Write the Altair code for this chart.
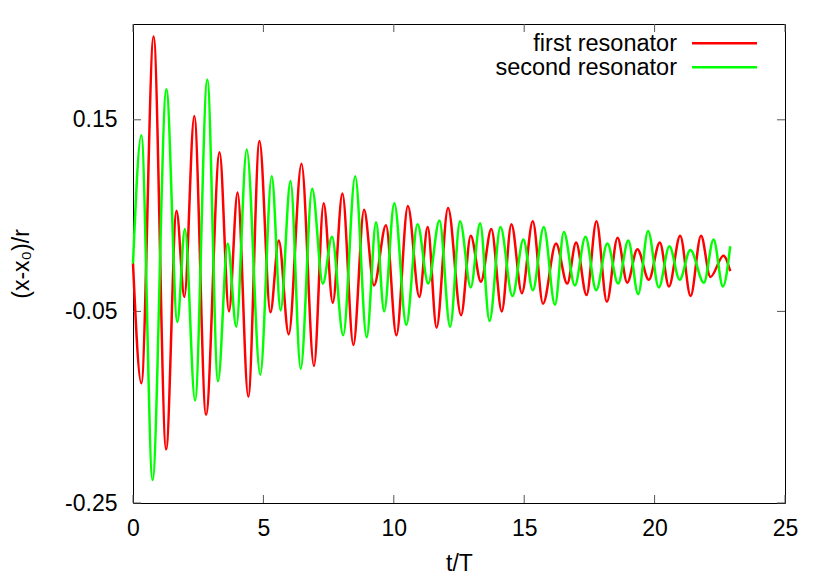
import altair as alt
import pandas as pd

# ---- data (extrema of each oscillation) ----
t_first = [0.0, 0.32, 0.79, 1.27, 1.67, 1.97, 2.35, 2.80, 3.32, 3.68, 4.01, 4.42, 4.85, 5.27,
           5.59, 5.97, 6.46, 6.94, 7.31, 7.66, 8.03, 8.45, 8.86, 9.24, 9.70, 10.10, 10.54,
           10.98, 11.30, 11.64, 12.08, 12.58, 12.95, 13.34, 13.74, 14.14, 14.51, 14.91, 15.33,
           15.72, 16.22, 16.65, 16.99, 17.39, 17.77, 18.17, 18.58, 18.95, 19.34, 19.78, 20.20,
           20.55, 20.98, 21.38, 21.78, 22.14, 22.64, 22.90]
v_first = [0.0, -0.125, 0.237, -0.194, 0.055, -0.035, 0.154, -0.158, 0.116, -0.050, 0.074,
           -0.139, 0.128, -0.051, 0.024, -0.074, 0.104, -0.107, 0.063, -0.041, 0.073, -0.085,
           0.056, -0.023, 0.040, -0.075, 0.060, -0.035, 0.038, -0.067, 0.058, -0.054, 0.029,
           -0.019, 0.036, -0.050, 0.041, -0.031, 0.044, -0.042, 0.021, -0.021, 0.022, -0.033,
           0.044, -0.040, 0.027, -0.020, 0.015, -0.017, 0.022, -0.024, 0.029, -0.034, 0.029,
           -0.014, 0.008, -0.008]

t_second = [0.0, 0.32, 0.75, 1.28, 1.70, 1.99, 2.38, 2.85, 3.26, 3.63, 3.96, 4.36, 4.88, 5.32,
            5.66, 6.04, 6.43, 6.87, 7.28, 7.63, 8.06, 8.52, 8.96, 9.32, 9.63, 10.02, 10.48,
            10.91, 11.32, 11.75, 12.16, 12.54, 12.95, 13.31, 13.67, 14.09, 14.55, 14.97, 15.33,
            15.75, 16.18, 16.52, 16.94, 17.35, 17.76, 18.19, 18.60, 18.99, 19.37, 19.75, 20.16,
            20.57, 20.96, 21.37, 21.89, 22.26, 22.62, 22.90]
v_second = [0.0, 0.134, -0.226, 0.182, -0.061, 0.036, -0.143, 0.192, -0.123, 0.021, -0.066,
            0.119, -0.116, 0.091, -0.049, 0.086, -0.110, 0.078, -0.021, 0.028, -0.075, 0.091,
            -0.077, 0.043, -0.050, 0.063, -0.064, 0.041, -0.021, 0.045, -0.066, 0.044, -0.025,
            0.042, -0.060, 0.038, -0.034, 0.025, -0.028, 0.038, -0.043, 0.033, -0.023, 0.028,
            -0.028, 0.021, -0.021, 0.024, -0.032, 0.034, -0.025, 0.018, -0.017, 0.014, -0.020,
            0.025, -0.024, 0.018]

series_names = ["first resonator", "second resonator"]
series_colors = ["#ff0000", "#00ff00"]
x_ticks = [0, 5, 10, 15, 20, 25]
y_ticks = [-0.25, -0.05, 0.15]

# ---- layout ----
W, H = 652, 479
FONT = "Liberation Sans"
FS = 23
TICK = 8
LW = 2.5

xs = alt.Scale(domain=[0, 25], nice=False, zero=False)
ys = alt.Scale(domain=[-0.25, 0.25], nice=False, zero=False)

x_axis = alt.Axis(values=x_ticks, ticks=False, domain=False, grid=False,
                  labelFontSize=FS, labelPadding=14, labelColor="black", labelFlush=False,
                  labelOverlap=False, format="d",
                  title="t/T", titleFontSize=FS, titleFontWeight="normal", titleColor="black",
                  titleX=W / 2, titleY=60, titleBaseline="middle")
y_axis = alt.Axis(values=y_ticks, ticks=False, domain=False, grid=False,
                  labelFontSize=FS, labelPadding=16, labelColor="black", labelOverlap=False,
                  labelExpr="replace(format(datum.value, '.2f'), '\u2212', '-')",
                  title="(x-x\u2080)/r", titleFontSize=FS, titleFontWeight="normal",
                  titleColor="black", titleAngle=-90, titleX=-112, titleY=H / 2,
                  titleBaseline="middle")

X = alt.X("t:Q", scale=xs, axis=x_axis)
Y = alt.Y("v:Q", scale=ys, axis=y_axis)

df1 = pd.DataFrame({"t": t_first, "v": v_first})
df2 = pd.DataFrame({"t": t_second, "v": v_second})

line1 = alt.Chart(df1).mark_line(color=series_colors[0], strokeWidth=LW,
                                 interpolate="monotone").encode(x=X, y=Y)
line2 = alt.Chart(df2).mark_line(color=series_colors[1], strokeWidth=LW,
                                 interpolate="monotone").encode(x=X, y=Y)

xt = pd.DataFrame({"t": x_ticks})
yt = pd.DataFrame({"v": y_ticks})
tick_style = dict(color="#555555", strokeWidth=1)
xt_bottom = alt.Chart(xt).mark_rule(**tick_style).encode(x=X, y=alt.value(H), y2=alt.value(H - TICK))
xt_top = alt.Chart(xt).mark_rule(**tick_style).encode(x=X, y=alt.value(0), y2=alt.value(TICK))
yt_left = alt.Chart(yt).mark_rule(**tick_style).encode(y=Y, x=alt.value(0), x2=alt.value(TICK))
yt_right = alt.Chart(yt).mark_rule(**tick_style).encode(y=Y, x=alt.value(W), x2=alt.value(W - TICK))

# ---- gnuplot-style key (label left of sample line) ----
key_layers = []
for i, (name, col) in enumerate(zip(series_names, series_colors)):
    kd = pd.DataFrame({"label": [name]})
    key_layers.append(
        alt.Chart(kd).mark_text(align="right", baseline="alphabetic", fontSize=23.5,
                                font=FONT, color="black")
        .encode(text="label:N", x=alt.value(544), y=alt.value(27 + 24 * i)))
    key_layers.append(
        alt.Chart(kd).mark_rule(color=col, strokeWidth=LW)
        .encode(x=alt.value(559), x2=alt.value(624), y=alt.value(19.3 + 24 * i)))

chart = alt.layer(
    xt_bottom, xt_top, yt_left, yt_right, line1, line2, *key_layers
).properties(
    width=W, height=H,
    autosize=alt.AutoSizeParams(type="none"),
    padding={"left": 125, "top": 16, "right": 30, "bottom": 72},
    background="white",
).configure(font=FONT).configure_view(stroke="black", strokeWidth=1)

chart.save("out.html", embed_options={"renderer": "svg", "actions": False})
